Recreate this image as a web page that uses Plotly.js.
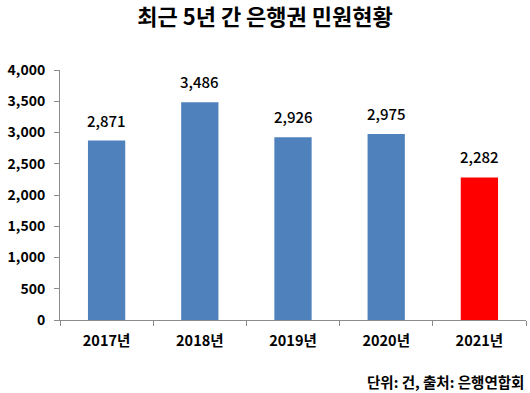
<!DOCTYPE html>
<html><head><meta charset="utf-8">
<script src="https://cdn.plot.ly/plotly-3.0.1.min.js"></script>
<style>html,body{margin:0;padding:0;background:#fff;}</style>
</head><body>
<div id="chart" style="width:530px;height:393px;"></div>
<script>
const categories = ["2017년", "2018년", "2019년", "2020년", "2021년"];
const values = [2871, 3486, 2926, 2975, 2282];
const barColors = ["#4F81BD", "#4F81BD", "#4F81BD", "#4F81BD", "#FF0000"];
const yTicks = [0, 500, 1000, 1500, 2000, 2500, 3000, 3500, 4000];
const titleText = "최근 5년 간 은행권 민원현황";
const noteText = "단위: 건, 출처: 은행연합회";

const FONT = "'Noto Sans CJK KR', 'Noto Sans', sans-serif";

const trace = {
  type: "bar",
  x: categories,
  y: values,
  marker: { color: barColors },
  width: 0.4,
  hoverinfo: "none"
};

const annotations = categories.map((c, i) => ({
  x: c, y: values[i], xref: "x", yref: "y",
  text: values[i].toLocaleString("en-US"),
  showarrow: false, yanchor: "bottom", yshift: 8,
  font: { family: FONT, size: 15, color: "#000", weight: 500 }
}));
annotations.push({
  xref: "paper", yref: "paper", x: 1.0, y: -0.244, xanchor: "right", yanchor: "middle",
  text: noteText, showarrow: false,
  font: { family: FONT, size: 14.5, color: "#000", weight: 700 }
});

const layout = {
  width: 530, height: 393,
  margin: { l: 60, r: 4, t: 70, b: 73 },
  paper_bgcolor: "#fff", plot_bgcolor: "#fff",
  showlegend: false,
  title: {
    text: titleText, x: 0.5, xanchor: "center", y: 0.955, yanchor: "middle",
    font: { family: FONT, size: 22, color: "#000", weight: 700 }
  },
  xaxis: {
    type: "category",
    showline: true, linecolor: "#8c8c8c", linewidth: 1,
    ticks: "outside", tickson: "boundaries", ticklen: 5, tickcolor: "#8c8c8c",
    showgrid: false, zeroline: false,
    tickfont: { family: FONT, size: 14.5, color: "#000", weight: 700 },
    ticklabelstandoff: 8
  },
  yaxis: {
    range: [0, 4000],
    tickvals: yTicks,
    ticktext: yTicks.map(v => v.toLocaleString("en-US")),
    showline: true, linecolor: "#8c8c8c", linewidth: 1,
    ticks: "outside", ticklen: 5, tickcolor: "#8c8c8c",
    showgrid: false, zeroline: false,
    tickfont: { family: FONT, size: 14, color: "#000", weight: 700 },
    ticklabelstandoff: 6
  },
  annotations: annotations
};

Plotly.newPlot("chart", [trace], layout, { displayModeBar: false, staticPlot: true });
</script>
</body></html>
